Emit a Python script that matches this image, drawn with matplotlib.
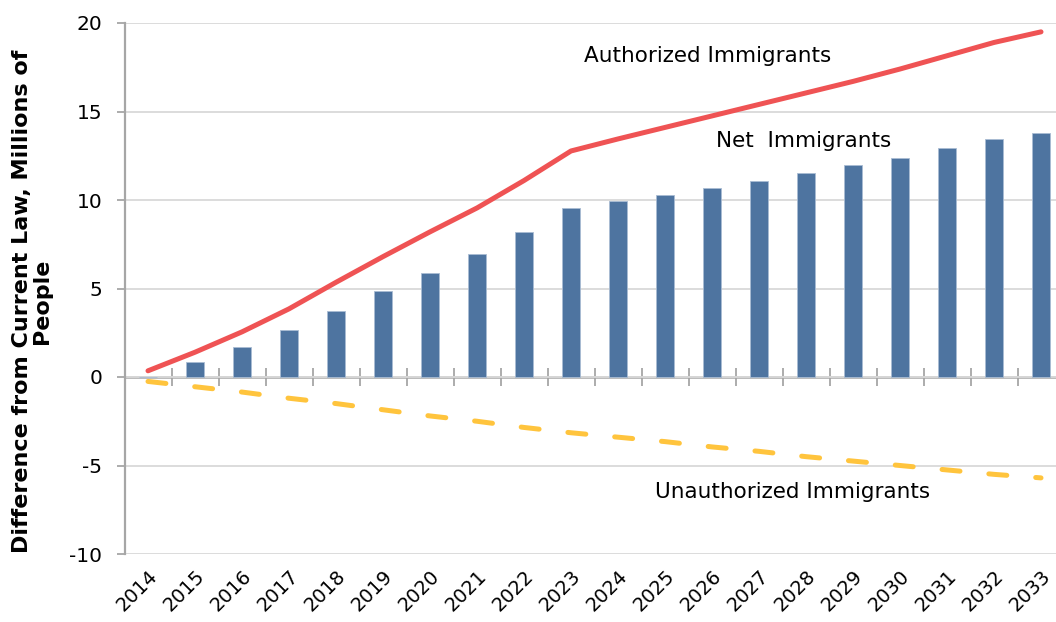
import matplotlib.pyplot as plt
import numpy as np

years = [str(y) for y in range(2014, 2034)]
net_immigrants = [0.0, 0.85, 1.7, 2.65, 3.75, 4.85, 5.9, 6.95, 8.2, 9.55,
                  9.95, 10.3, 10.65, 11.05, 11.5, 11.95, 12.4, 12.95, 13.45, 13.8]
authorized = [0.35, 1.4, 2.55, 3.85, 5.35, 6.8, 8.2, 9.55, 11.1, 12.77,
              13.45, 14.1, 14.75, 15.4, 16.05, 16.7, 17.4, 18.15, 18.9, 19.5]
unauthorized = [-0.25, -0.55, -0.85, -1.2, -1.5, -1.85, -2.2, -2.5, -2.85, -3.15,
                -3.4, -3.65, -3.95, -4.2, -4.5, -4.75, -5.0, -5.25, -5.5, -5.7]

plt.rcParams['font.family'] = ['DejaVu Sans']
plt.rcParams['axes.unicode_minus'] = False

fig = plt.figure(figsize=(10.56, 6.22), dpi=100)
ax = fig.add_axes([124.5 / 1056, 1 - 554 / 622, 940 / 1056, 531 / 622])

x = np.arange(len(years))
ax.bar(x, net_immigrants, width=0.4, color='#4E74A0', edgecolor='#A9BCD3',
       linewidth=0.6, zorder=2)
ax.plot(x, authorized, color='#EF5354', lw=3.6, solid_capstyle='round', zorder=3)
ax.plot(x, unauthorized, color='#FFC43D', lw=3.6, dashes=(3.6, 5.8),
        dash_capstyle='round', zorder=3)

ax.set_xlim(-0.5, len(years) - 0.5)
ax.set_ylim(-10, 20)
ax.set_yticks(range(-10, 21, 5))
ax.yaxis.grid(True, color='#D9D9D9', lw=1.3)
ax.set_axisbelow(True)

for side in ['top', 'right', 'bottom']:
    ax.spines[side].set_visible(False)
ax.spines['left'].set_color('#A6A6A6')
ax.spines['left'].set_linewidth(1.6)
ax.tick_params(axis='y', length=6, width=1.3, color='#A6A6A6', labelsize=14.5, pad=10)

ax.set_xticks(x)
ax.set_xticklabels(years, rotation=45, ha='right', rotation_mode='anchor', fontsize=14)
ax.tick_params(axis='x', length=0, pad=9)

# category axis drawn at zero with tick marks between the years
zero_frac = (0 - ax.get_ylim()[0]) / (ax.get_ylim()[1] - ax.get_ylim()[0])
zax = ax.secondary_xaxis(zero_frac)
zax.set_xticks(np.arange(-0.5, len(years), 1.0))
zax.set_xticklabels([])
zax.tick_params(direction='inout', length=13, width=1.3, color='#A6A6A6')
zax.spines['bottom'].set_color('#A6A6A6')
zax.spines['bottom'].set_linewidth(1.8)

ax.set_ylabel('Difference from Current Law, Millions of\nPeople', fontsize=16,
              fontweight='bold', linespacing=1.0)
ax.yaxis.set_label_coords(-0.077, 0.475)

ax.text(11.91, 18.13, 'Authorized Immigrants', fontsize=15.5, ha='center', va='center')
ax.text(13.94, 13.33, 'Net  Immigrants', fontsize=15.5, ha='center', va='center')
ax.text(13.72, -6.5, 'Unauthorized Immigrants', fontsize=15.5, ha='center', va='center')

fig.savefig('out.png', dpi=100)
